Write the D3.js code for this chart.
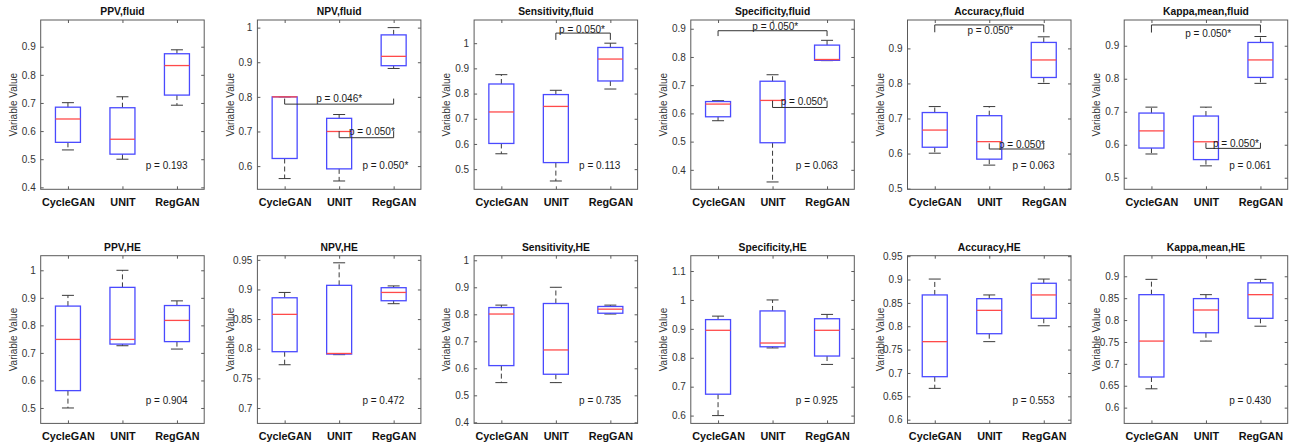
<!DOCTYPE html>
<html>
<head>
<meta charset="utf-8">
<script src="https://cdn.jsdelivr.net/npm/d3@7"></script>
<style>
  html, body { margin: 0; padding: 0; background: #fff; }
  svg { display: block; }
  text { font-family: "Liberation Sans", Arial, Helvetica, sans-serif; }
</style>
</head>
<body>
<svg id="chart" width="1289" height="448"></svg>
<script>
// ---------------- DATA ----------------
const categories = ["CycleGAN", "UNIT", "RegGAN"];

const panelTitles = [
  "PPV,fluid", "NPV,fluid", "Sensitivity,fluid", "Specificity,fluid", "Accuracy,fluid", "Kappa,mean,fluid",
  "PPV,HE", "NPV,HE", "Sensitivity,HE", "Specificity,HE", "Accuracy,HE", "Kappa,mean,HE"
];

// per panel: [CycleGAN, UNIT, RegGAN]
const whiskerHigh = [
  [0.701, 0.722, 0.889], [0.800, 0.749, 1.000], [0.875, 0.813, 1.000],
  [0.645, 0.737, 0.859], [0.734, 0.734, 0.933], [0.714, 0.714, 0.928],
  [0.909, 1.000, 0.889], [0.895, 0.945, 0.906], [0.834, 0.900, 0.834],
  [0.944, 1.000, 0.950], [0.901, 0.867, 0.901], [0.893, 0.858, 0.893]
];
const upperQuartile = [
  [0.685, 0.683, 0.875], [0.800, 0.738, 0.979], [0.838, 0.796, 0.983],
  [0.642, 0.714, 0.842], [0.717, 0.708, 0.917], [0.696, 0.687, 0.910],
  [0.870, 0.938, 0.872], [0.886, 0.907, 0.903], [0.825, 0.840, 0.829],
  [0.932, 0.962, 0.935], [0.867, 0.859, 0.892], [0.858, 0.849, 0.885]
];
const medians = [
  [0.643, 0.571, 0.833], [0.800, 0.700, 0.917], [0.727, 0.749, 0.937],
  [0.633, 0.646, 0.791], [0.667, 0.634, 0.867], [0.642, 0.609, 0.857],
  [0.749, 0.749, 0.818], [0.858, 0.792, 0.895], [0.801, 0.668, 0.819],
  [0.895, 0.851, 0.895], [0.767, 0.834, 0.867], [0.752, 0.823, 0.858]
];
const lowerQuartile = [
  [0.560, 0.518, 0.728], [0.622, 0.592, 0.890], [0.602, 0.526, 0.850],
  [0.588, 0.496, 0.788], [0.618, 0.584, 0.817], [0.590, 0.555, 0.804],
  [0.563, 0.732, 0.741], [0.795, 0.791, 0.881], [0.610, 0.578, 0.804],
  [0.674, 0.838, 0.806], [0.692, 0.784, 0.817], [0.670, 0.771, 0.804]
];
const whiskerLow = [
  [0.533, 0.500, 0.692], [0.564, 0.557, 0.882], [0.561, 0.453, 0.818],
  [0.574, 0.357, 0.787], [0.601, 0.567, 0.800], [0.572, 0.536, 0.786],
  [0.500, 0.726, 0.714], [0.773, 0.790, 0.876], [0.547, 0.547, 0.801],
  [0.600, 0.834, 0.777], [0.667, 0.767, 0.801], [0.643, 0.752, 0.786]
];

const yDomains = [
  [0.393, 0.995], [0.533, 1.022], [0.420, 1.092], [0.331, 0.931], [0.498, 0.981], [0.465, 0.978],
  [0.444, 1.053], [0.674, 0.957], [0.396, 1.017], [0.573, 1.153], [0.592, 0.951], [0.564, 0.947]
];

const yTicks = [
  [0.4, 0.5, 0.6, 0.7, 0.8, 0.9], [0.6, 0.7, 0.8, 0.9, 1], [0.5, 0.6, 0.7, 0.8, 0.9, 1],
  [0.4, 0.5, 0.6, 0.7, 0.8, 0.9], [0.5, 0.6, 0.7, 0.8, 0.9], [0.5, 0.6, 0.7, 0.8, 0.9],
  [0.5, 0.6, 0.7, 0.8, 0.9, 1], [0.7, 0.75, 0.8, 0.85, 0.9, 0.95], [0.4, 0.5, 0.6, 0.7, 0.8, 0.9, 1],
  [0.6, 0.7, 0.8, 0.9, 1, 1.1], [0.6, 0.65, 0.7, 0.75, 0.8, 0.85, 0.9, 0.95], [0.6, 0.65, 0.7, 0.75, 0.8, 0.85, 0.9]
];

const overallPValues = [
  "p = 0.193", "p = 0.050*", "p = 0.113", "p = 0.063", "p = 0.063", "p = 0.061",
  "p = 0.904", "p = 0.472", "p = 0.735", "p = 0.925", "p = 0.553", "p = 0.430"
];

// pairwise comparison brackets: panel, from/to category index, bracket line value, end value, label value, label position
const bracketPanel = [1, 1, 2, 3, 3, 4, 4, 5, 5];
const bracketFrom  = [0, 1, 1, 0, 1, 0, 1, 0, 1];
const bracketTo    = [2, 2, 2, 2, 2, 2, 2, 2, 2];
const bracketLine  = [0.779, 0.682, 1.040, 0.893, 0.621, 0.967, 0.613, 0.963, 0.589];
const bracketEnd   = [0.795, 0.701, 1.013, 0.874, 0.645, 0.946, 0.629, 0.940, 0.606];
const bracketTextY = [0.796, 0.699, 1.055, 0.909, 0.642, 0.950, 0.627, 0.937, 0.604];
const bracketTextX = [2.00, 2.60, 2.48, 2.05, 2.57, 2.02, 2.60, 2.04, 2.55];
const bracketLabel = ["p = 0.046*", "p = 0.050*", "p = 0.050*", "p = 0.050*", "p = 0.050*",
                      "p = 0.050*", "p = 0.050*", "p = 0.050*", "p = 0.050*"];

// ---------------- LAYOUT ----------------
const svg = d3.select("#chart");
const plotW = 163.5;
const colStep = 216.7;
const firstLeft = 40.7;
const rowTop = [20, 255.7];
const rowH = [169.3, 167.7];
const boxW = 25, capW = 12;

const axisColor = "#5a5a5a";
const boxColor = "#4a4aff";
const medColor = "#ff4a4a";
const whiskColor = "#3a3a3a";

panelTitles.forEach((title, p) => {
  const row = Math.floor(p / 6), col = p % 6;
  const left = firstLeft + col * colStep, top = rowTop[row], h = rowH[row];
  const g = svg.append("g").attr("transform", `translate(${left},${top})`);

  const x = d3.scaleLinear().domain([0.5, 3.5]).range([0, plotW]);
  const y = d3.scaleLinear().domain(yDomains[p]).range([h, 0]);
  const fmt = d3.format("~g");

  // axes
  const yl = g.append("g").call(d3.axisLeft(y).tickValues(yTicks[p]).tickFormat(fmt).tickSizeInner(-3).tickSizeOuter(0).tickPadding(5));
  const yr = g.append("g").attr("transform", `translate(${plotW},0)`).call(d3.axisRight(y).tickValues(yTicks[p]).tickFormat("").tickSizeInner(-3).tickSizeOuter(0));
  const xb = g.append("g").attr("transform", `translate(0,${h})`).call(d3.axisBottom(x).tickValues([1, 2, 3]).tickFormat(i => categories[i - 1]).tickSizeInner(-3).tickSizeOuter(0).tickPadding(9));
  const xt = g.append("g").call(d3.axisTop(x).tickValues([1, 2, 3]).tickFormat("").tickSizeInner(-3).tickSizeOuter(0));
  [yl, yr, xb, xt].forEach(a => {
    a.select(".domain").remove();
    a.selectAll(".tick line").attr("stroke", axisColor);
  });
  yl.selectAll("text").attr("font-size", 10).attr("fill", "#333").attr("font-family", '"Liberation Sans", Arial, sans-serif');
  xb.selectAll("text").attr("font-size", 10.8).attr("font-weight", "bold").attr("fill", "#111").attr("font-family", '"Liberation Sans", Arial, sans-serif');

  g.append("rect").attr("x", 0).attr("y", 0).attr("width", plotW).attr("height", h)
    .attr("fill", "none").attr("stroke", axisColor).attr("stroke-width", 1);

  // boxes
  categories.forEach((c, i) => {
    const cx = x(i + 1);
    const bg = g.append("g");
    // whiskers
    bg.append("line").attr("x1", cx).attr("x2", cx).attr("y1", y(upperQuartile[p][i])).attr("y2", y(whiskerHigh[p][i]))
      .attr("stroke", whiskColor).attr("stroke-dasharray", "5,3");
    bg.append("line").attr("x1", cx).attr("x2", cx).attr("y1", y(lowerQuartile[p][i])).attr("y2", y(whiskerLow[p][i]))
      .attr("stroke", whiskColor).attr("stroke-dasharray", "5,3");
    // caps
    [whiskerHigh[p][i], whiskerLow[p][i]].forEach(v => {
      bg.append("line").attr("x1", cx - capW / 2).attr("x2", cx + capW / 2).attr("y1", y(v)).attr("y2", y(v))
        .attr("stroke", whiskColor);
    });
    // box
    bg.append("rect").attr("x", cx - boxW / 2).attr("width", boxW)
      .attr("y", y(upperQuartile[p][i])).attr("height", y(lowerQuartile[p][i]) - y(upperQuartile[p][i]))
      .attr("fill", "none").attr("stroke", boxColor).attr("stroke-width", 1.3);
    // median
    bg.append("line").attr("x1", cx - boxW / 2).attr("x2", cx + boxW / 2).attr("y1", y(medians[p][i])).attr("y2", y(medians[p][i]))
      .attr("stroke", medColor).attr("stroke-width", 1.3);
  });

  // pairwise brackets
  bracketPanel.forEach((bp, k) => {
    if (bp !== p) return;
    const x1 = x(bracketFrom[k] + 1), x2 = x(bracketTo[k] + 1);
    const yl0 = y(bracketLine[k]), ye = y(bracketEnd[k]);
    g.append("path").attr("d", `M${x1},${ye}V${yl0}H${x2}V${ye}`)
      .attr("fill", "none").attr("stroke", "#333").attr("stroke-width", 1);
    g.append("text").attr("x", x(bracketTextX[k])).attr("y", y(bracketTextY[k])).attr("dy", "0.35em")
      .attr("text-anchor", "middle").attr("font-size", 10).attr("fill", "#1a1a1a").text(bracketLabel[k]);
  });

  // overall p value
  g.append("text").attr("x", 105).attr("y", h * 0.862).attr("dy", "0.35em")
    .attr("font-size", 10).attr("fill", "#1a1a1a").text(overallPValues[p]);

  // title
  g.append("text").attr("x", plotW / 2).attr("y", -5).attr("text-anchor", "middle")
    .attr("font-size", 10.3).attr("font-weight", "bold").attr("fill", "#111").text(title);

  // y label
  g.append("text").attr("transform", `translate(-27.4,${h / 2}) rotate(-90)`).attr("dy", "0.35em")
    .attr("text-anchor", "middle").attr("font-size", 10).attr("fill", "#333").text("Variable Value");
});
</script>
</body>
</html>
